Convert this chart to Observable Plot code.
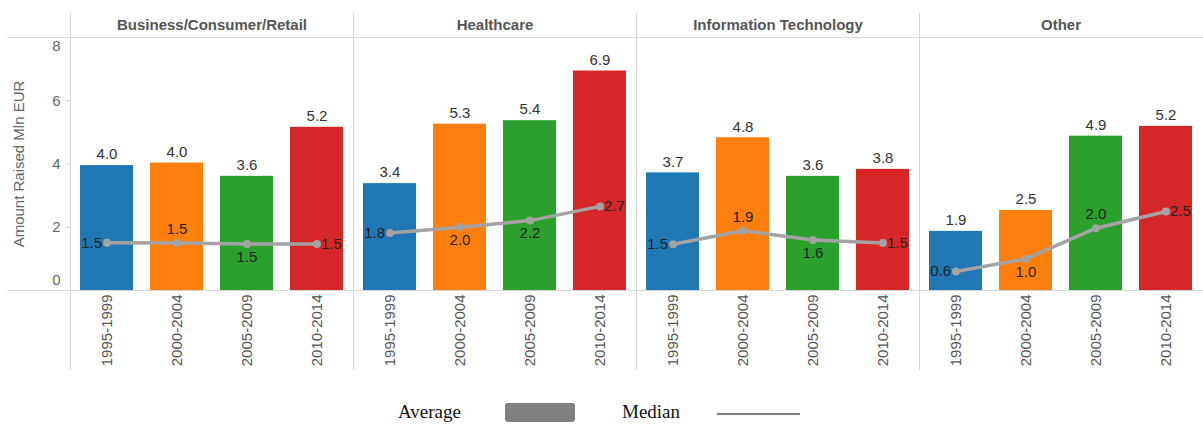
<!DOCTYPE html>
<html>
<head>
<meta charset="utf-8">
<script src="https://cdn.jsdelivr.net/npm/d3@7"></script>
<script src="https://cdn.jsdelivr.net/npm/@observablehq/plot@0.6"></script>
<style>
  body { margin: 0; background: #fff; }
  #wrap { position: relative; width: 1203px; height: 425px; font-family: "Liberation Sans", Arial, sans-serif; }
  #legend { position: absolute; left: 0; top: 0; width: 1203px; height: 425px; pointer-events: none; font-family: "Liberation Serif", "DejaVu Serif", serif; color: #111; }
  #legend .t { position: absolute; font-size: 19px; line-height: 20px; }
  #legend .sw { position: absolute; background: #808080; border-radius: 3px; }
  #legend .ln { position: absolute; background: #808080; }
</style>
</head>
<body>
<div id="wrap">
  <div id="chart"></div>
  <div id="legend">
    <div class="t" style="left:398px; top:402px;">Average</div>
    <div class="sw" style="left:505px; top:403px; width:70px; height:19px;"></div>
    <div class="t" style="left:622px; top:402px;">Median</div>
    <div class="ln" style="left:717px; top:413px; width:83px; height:2px;"></div>
  </div>
</div>
<script>
// ---- data ----
const sectors = ["Business/Consumer/Retail", "Healthcare", "Information Technology", "Other"];
const periods = ["1995-1999", "2000-2004", "2005-2009", "2010-2014"];
const periodColors = ["#1f77b4", "#ff7f0e", "#2ca02c", "#d62728"];

const avgBusiness   = [3.95, 4.03, 3.61, 5.16];
const avgHealthcare = [3.38, 5.26, 5.37, 6.94];
const avgIT         = [3.72, 4.83, 3.61, 3.83];
const avgOther      = [1.87, 2.53, 4.88, 5.19];

const medBusiness   = [1.51, 1.50, 1.47, 1.47];
const medHealthcare = [1.82, 2.00, 2.21, 2.66];
const medIT         = [1.46, 1.89, 1.60, 1.50];
const medOther      = [0.60, 1.00, 1.97, 2.50];

const yTicks = [0, 2, 4, 6, 8];
const yLabel = "Amount Raised Mln EUR";

// ---- table ----
const avgs = [avgBusiness, avgHealthcare, avgIT, avgOther];
const meds = [medBusiness, medHealthcare, medIT, medOther];
const rows = sectors.flatMap((s, si) => periods.map((p, pi) => {
  const m = meds[si];
  let pos;
  if (pi === 0) pos = "left";
  else if (pi === periods.length - 1) pos = "right";
  else pos = m[pi] >= (m[pi - 1] + m[pi + 1]) / 2 ? "above" : "below";
  return {sector: s, period: p, avg: avgs[si][pi], med: m[pi], pos};
}));

const fmt = v => v.toFixed(1);
const medStyle = {fx: "sector", x: "period", y: "med", text: d => fmt(d.med), fontSize: 15, fill: "#222"};

const plot = Plot.plot({
  width: 1203,
  height: 380,
  marginLeft: 68,
  marginRight: 0,
  marginTop: 37,
  marginBottom: 90,
  style: {fontFamily: "'Liberation Sans', Arial, sans-serif", background: "transparent", overflow: "visible"},
  fx: {domain: sectors, padding: 0},
  x: {domain: periods, paddingInner: 0.25, paddingOuter: 0.125},
  y: {domain: [0, 8]},
  color: {domain: periods, range: periodColors},
  marks: [
    Plot.barY(rows, {fx: "sector", x: "period", y: "avg", fill: "period"}),
    Plot.text(rows, {fx: "sector", x: "period", y: "avg", text: d => fmt(d.avg), dy: -11, fontSize: 15, fill: "#333"}),
    Plot.line(rows, {fx: "sector", x: "period", y: "med", stroke: "#a3a3a3", strokeWidth: 3.5}),
    Plot.dot(rows, {fx: "sector", x: "period", y: "med", fill: "#a3a3a3", r: 4}),
    Plot.text(rows.filter(d => d.pos === "left"), {...medStyle, textAnchor: "end", dx: -5}),
    Plot.text(rows.filter(d => d.pos === "right"), {...medStyle, textAnchor: "start", dx: 4}),
    Plot.text(rows.filter(d => d.pos === "above"), {...medStyle, dy: -14}),
    Plot.text(rows.filter(d => d.pos === "below"), {...medStyle, dy: 13}),
    Plot.axisFx({anchor: "top", label: null, tickSize: 0, tickPadding: 8, fontSize: 15, fontWeight: "bold", fill: "#555"}),
    Plot.axisX({tickRotate: -90, tickSize: 0, tickPadding: 4, fontSize: 15, fill: "#555", label: null}),
    Plot.axisY({ticks: yTicks.slice(1, -1), tickSize: 4, tickPadding: 6, stroke: "#ccc", fill: "#666", fontSize: 15,
      label: yLabel, labelAnchor: "center", labelArrow: "none", labelOffset: 57}),
    Plot.axisY({ticks: yTicks.slice(0, 1), tickSize: 0, tickPadding: 10, dy: -10, fill: "#666", fontSize: 15, label: null}),
    Plot.axisY({ticks: yTicks.slice(-1), tickSize: 0, tickPadding: 10, dy: 9, fill: "#666", fontSize: 15, label: null})
  ]
});

document.getElementById("chart").appendChild(plot);

// ---- panel separators and header / baseline rules, placed with Plot's own scales ----
const fxS = plot.scale("fx"), yS = plot.scale("y");
const svg = d3.select(plot);
const g = svg.insert("g", ":first-child").attr("stroke", "#d6d6d6").attr("stroke-width", 1);
sectors.forEach(s => {
  const x0 = Math.round(fxS.apply(s)) + 0.5;
  g.append("line").attr("x1", x0).attr("x2", x0).attr("y1", 13).attr("y2", 370);
});
[yTicks[yTicks.length - 1], yTicks[0]].forEach(v => {
  const yy = Math.round(yS.apply(v)) + 0.5;
  g.append("line").attr("x1", 7).attr("x2", 1203).attr("y1", yy).attr("y2", yy);
});
</script>
</body>
</html>
